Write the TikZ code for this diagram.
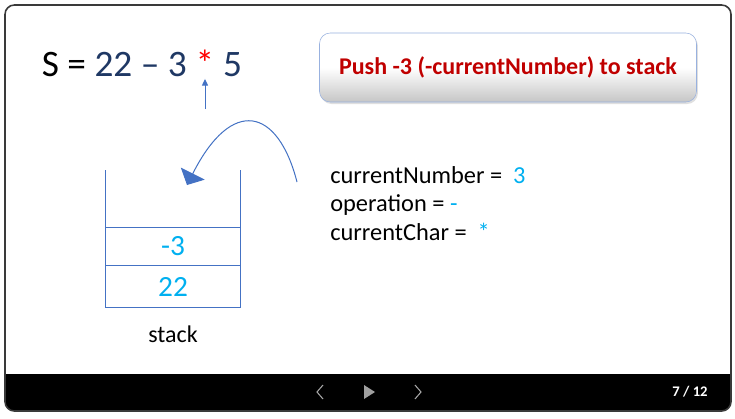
\documentclass[tikz,border=0pt]{standalone}
\usepackage{fontspec}
\setmainfont{Carlito}
\usetikzlibrary{positioning, arrows.meta, shadows}

\definecolor{navy}{HTML}{1F3864}
\definecolor{lineblue}{HTML}{4472C4}
\definecolor{valblue}{HTML}{00B0F0}
\definecolor{darkred}{HTML}{C00000}
\definecolor{framegray}{HTML}{3A3A3A}

\begin{document}
\begin{tikzpicture}[x=0.75pt, y=-0.75pt,
        exprtext/.style={inner sep=0pt, font=\fontsize{28}{28}\selectfont},
        cell/.style={rectangle, draw=lineblue, minimum width=101.25pt, inner sep=0pt,
            text=valblue, font=\fontsize{22}{22}\selectfont},
        vartext/.style={anchor=base west, inner sep=0pt, font=\fontsize{18.3}{18.3}\selectfont},
        pointer/.style={lineblue, line width=0.75pt}]
        \useasboundingbox (0,0) rectangle (735,418);

        % Slide frame and player bar
        \begin{scope}
            \clip[rounded corners=7] (5,5) rectangle (731,411);
            \fill[white] (5,5) rectangle (731,411);
            \fill[black] (5,374) rectangle (731,411);
        \end{scope}
        \draw[framegray, line width=1.2pt, rounded corners=7] (5,5) rectangle (731,411);

        % Player controls
        \draw[gray!70, line width=0.8pt] (323,385) -- (317,392) -- (323,399);
        \fill[gray!75] (364,385) -- (375,392) -- (364,399) -- cycle;
        \draw[gray!70, line width=0.8pt] (415,385) -- (421,392) -- (415,399);
        \node[text=white, font=\bfseries\fontsize{11}{11}\selectfont] (page) at (690,392) {7 / 12};

        % Expression
        \node[exprtext, anchor=base, text=red] (star) at (205,76) {*};
        \node[exprtext, anchor=base east] (expr) at ([xshift=-6.3pt]star.base west) {S = \textcolor{navy}{22 – 3}};
        \node[exprtext, anchor=base west, text=navy] (five) at ([xshift=6.3pt]star.base east) {5};
        \coordinate (ptr) at (205,109);
        \draw[pointer, -{Triangle[length=5pt, width=4.5pt]}] (ptr) -- ([yshift=-2pt]star.south);

        % Message box
        \node[rectangle, rounded corners=8pt, draw=lineblue!55, top color=white, bottom color=gray!45,
            middle color=white, drop shadow={opacity=0.25, shadow xshift=1pt, shadow yshift=-1.5pt},
            minimum width=282.75pt, minimum height=51.75pt, text=darkred,
            font=\bfseries\fontsize{18}{18}\selectfont] (msg) at (508,67.5) {Push -3 (-currentNumber) to stack};

        % Stack
        \node[cell, minimum height=28.5pt] (top) at (173,246) {-3};
        \node[cell, minimum height=31.5pt, below=0pt of top] (bottom) {22};
        \draw[lineblue, line width=0.75pt] (top.north west) -- ++(0,-57);
        \draw[lineblue, line width=0.75pt] (top.north east) -- ++(0,-57);
        \node[font=\fontsize{18}{18}\selectfont, below=10pt of bottom] (label) {stack};

        % Variables
        \node[vartext] (curnum) at (330,183) {currentNumber =\hspace{0.45em}\textcolor{valblue}{3}};
        \node[vartext] (oper) at (330,211.5) {operation = \textcolor{valblue}{-}};
        \node[vartext] (curchar) at (330,240) {currentChar =\hspace{0.45em}\textcolor{valblue}{*}};

        % Push arrow
        \coordinate (from) at (297,182);
        \coordinate (into) at (187,185);
        \draw[pointer, -{Triangle[length=9.6pt, width=20pt]}] (from) .. controls (278,108) and (232,96) .. (into);
    \end{tikzpicture}
\end{document}
